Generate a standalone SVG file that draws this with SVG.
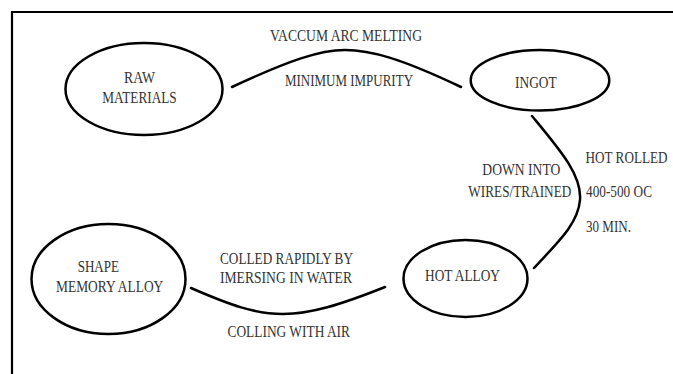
<svg xmlns="http://www.w3.org/2000/svg" width="673" height="374" viewBox="0 0 673 374">
<style>
.n{fill:none;stroke:#000;stroke-width:2.5}
.c{fill:none;stroke:#000;stroke-width:2.5;stroke-linecap:round}
.t{font-family:"Liberation Serif","Times New Roman",serif;font-size:13px;fill:#333}
</style>
<rect width="673" height="374" fill="#fff"/>
<path d="M12,374 V12 H673" fill="none" stroke="#000" stroke-width="2.2"/>
<g id="connectors">
<path class="c" d="M232,87 C290,60 320,50 345,50 C370,50 400,58 461,87"/>
<path class="c" d="M532,116 C560,150 582,175 580,200 C578,225 555,245 534,268"/>
<path class="c" d="M191,288 C230,305 255,314 283,314 C310,314 340,305 385,287"/>
</g>
<g id="edge-labels">
<text class="t" transform="translate(270,41) scale(1,1.32)" textLength="152" lengthAdjust="spacingAndGlyphs">VACCUM ARC MELTING</text>
<text class="t" transform="translate(285,86) scale(1,1.32)" textLength="128" lengthAdjust="spacingAndGlyphs">MINIMUM IMPURITY</text>
<text class="t" transform="translate(585.5,162.7) scale(1,1.32)" textLength="82" lengthAdjust="spacingAndGlyphs">HOT ROLLED</text>
<text class="t" transform="translate(586,196.7) scale(1,1.32)" textLength="66" lengthAdjust="spacingAndGlyphs">400-500 OC</text>
<text class="t" transform="translate(586,231.7) scale(1,1.32)" textLength="45" lengthAdjust="spacingAndGlyphs">30 MIN.</text>
<text class="t" transform="translate(482.3,175) scale(1,1.32)" textLength="78" lengthAdjust="spacingAndGlyphs">DOWN INTO</text>
<text class="t" transform="translate(468.3,196.7) scale(1,1.32)" textLength="103" lengthAdjust="spacingAndGlyphs">WIRES/TRAINED</text>
<text class="t" transform="translate(220,264) scale(1,1.32)" textLength="133" lengthAdjust="spacingAndGlyphs">COLLED RAPIDLY BY</text>
<text class="t" transform="translate(220,283.3) scale(1,1.32)" textLength="132" lengthAdjust="spacingAndGlyphs">IMERSING IN WATER</text>
<text class="t" transform="translate(227.5,337) scale(1,1.32)" textLength="122.5" lengthAdjust="spacingAndGlyphs">COLLING WITH AIR</text>
</g>
<g id="raw-materials">
<ellipse class="n" cx="144" cy="89" rx="78.5" ry="46"/>
<text class="t" transform="translate(124,83.3) scale(1,1.32)" textLength="31" lengthAdjust="spacingAndGlyphs">RAW</text>
<text class="t" transform="translate(102.3,103.3) scale(1,1.32)" textLength="74.4" lengthAdjust="spacingAndGlyphs">MATERIALS</text>
</g>
<g id="ingot">
<ellipse class="n" cx="540" cy="80.3" rx="69.3" ry="30.3"/>
<text class="t" transform="translate(515,87.7) scale(1,1.32)" textLength="41.7" lengthAdjust="spacingAndGlyphs">INGOT</text>
</g>
<g id="hot-alloy">
<ellipse class="n" cx="465.5" cy="278.5" rx="62" ry="38.5"/>
<text class="t" transform="translate(425,280.7) scale(1,1.32)" textLength="75" lengthAdjust="spacingAndGlyphs">HOT ALLOY</text>
</g>
<g id="shape-memory-alloy">
<ellipse class="n" cx="108.5" cy="279" rx="77" ry="55"/>
<text class="t" transform="translate(77.7,272.3) scale(1,1.32)" textLength="41.3" lengthAdjust="spacingAndGlyphs">SHAPE</text>
<text class="t" transform="translate(56,292.3) scale(1,1.32)" textLength="107.3" lengthAdjust="spacingAndGlyphs">MEMORY ALLOY</text>
</g>
</svg>
